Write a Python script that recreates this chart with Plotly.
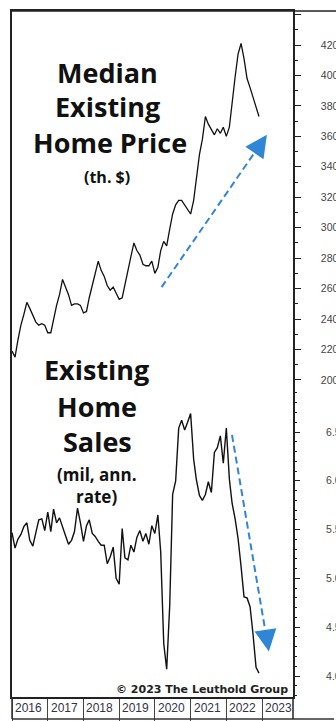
import plotly.graph_objects as go
import pandas as pd

# ---------------- data ----------------
months = pd.date_range("2016-01-01", "2022-12-01", freq="MS")

price = [219, 215, 226, 236, 243, 251, 247, 243, 238, 236, 237, 236,
         231, 231, 240, 249, 256, 266, 261, 256, 249, 250, 250, 249,
         244, 245, 254, 262, 268, 278, 272, 268, 262, 259, 261, 257,
         253, 254, 263, 271, 281, 290, 285, 282, 276, 275, 275, 278,
         270, 274, 285, 291, 288, 299, 309, 315, 318, 318, 315, 312,
         309, 318, 334, 348, 358, 373, 368, 364, 361, 365, 362, 366,
         360, 366, 383, 399, 414, 421, 411, 398, 392, 386, 379, 373]

sales = [5.47, 5.31, 5.40, 5.45, 5.53, 5.57, 5.39, 5.33, 5.47, 5.60, 5.61, 5.49,
         5.68, 5.48, 5.71, 5.57, 5.62, 5.52, 5.44, 5.35, 5.39, 5.48, 5.72, 5.57,
         5.38, 5.54, 5.60, 5.46, 5.43, 5.38, 5.34, 5.34, 5.15, 5.22, 5.32, 5.00,
         4.94, 5.51, 5.21, 5.19, 5.34, 5.27, 5.42, 5.49, 5.38, 5.46, 5.35, 5.54,
         5.46, 5.65, 5.27, 4.33, 4.07, 4.72, 5.86, 6.00, 6.54, 6.62, 6.52, 6.60,
         6.69, 6.22, 6.01, 5.85, 5.80, 5.86, 5.99, 5.88, 6.29, 6.34, 6.46, 6.18,
         6.54, 6.02, 5.77, 5.61, 5.41, 5.12, 4.81, 4.80, 4.71, 4.43, 4.09, 4.03]

price_ticks = [200, 220, 240, 260, 280, 300, 320, 340, 360, 380, 400, 420, 440]
price_ticktext = ["200", "220", "240", "260", "280", "300", "320", "340", "360", "380", "400", "420", ""]
price_minor = [210, 230, 250, 270, 290, 310, 330, 350, 370, 390, 410, 430]

sales_ticks = [4.0, 4.5, 5.0, 5.5, 6.0, 6.5]
sales_ticktext = ["4.0", "4.5", "5.0", "5.5", "6.0", "6.5"]
sales_minor = [3.8, 3.9, 4.1, 4.2, 4.3, 4.4, 4.6, 4.7, 4.8, 4.9, 5.1, 5.2, 5.3, 5.4,
               5.6, 5.7, 5.8, 5.9, 6.1, 6.2, 6.3, 6.4, 6.6, 6.7, 6.8, 6.9]

years = [2016, 2017, 2018, 2019, 2020, 2021, 2022, 2023]

price_arrow_dates = ["2020-03-10", "2023-02-20"]
price_arrow_vals = [261, 361]
sales_arrow_dates = ["2022-02-28", "2023-03-12"]
sales_arrow_vals = [6.47, 4.25]

# ---------------- layout geometry ----------------
W, H = 336, 721
L, R, T, B = 12, 293, 11, 697


def px(x):
    return (x - L) / (R - L)


def py(y):
    return (B - y) / (B - T)


BLUE = "#2f86d6"

fig = go.Figure()

fig.add_trace(go.Scatter(x=months, y=price, mode="lines",
                         line=dict(color="#111111", width=1.3), yaxis="y"))
fig.add_trace(go.Scatter(x=months, y=sales, mode="lines",
                         line=dict(color="#111111", width=1.4), yaxis="y2"))

# dashed arrows
fig.add_trace(go.Scatter(x=price_arrow_dates, y=price_arrow_vals, mode="lines",
                         line=dict(color=BLUE, width=2, dash="7px,4px"), yaxis="y"))
fig.add_trace(go.Scatter(x=sales_arrow_dates, y=sales_arrow_vals, mode="lines",
                         line=dict(color=BLUE, width=2, dash="7px,4px"), yaxis="y2"))

annotations = []
annotations.append(dict(x=price_arrow_dates[1], y=price_arrow_vals[1], xref="x", yref="y",
                        ax=-11, ay=16, showarrow=True, arrowhead=2, arrowsize=2.2,
                        arrowwidth=2, arrowcolor=BLUE, text=""))
annotations.append(dict(x=sales_arrow_dates[1], y=sales_arrow_vals[1], xref="x", yref="y2",
                        ax=-3, ay=-19, showarrow=True, arrowhead=2, arrowsize=2.2,
                        arrowwidth=2, arrowcolor=BLUE, text=""))

TF = "Open Sans"
title_lines = [
    ("Median", 107, 72, 27), ("Existing", 107, 106, 27), ("Home Price", 110, 142, 27),
    ("(th. $)", 107, 177, 16),
    ("Existing", 96, 369, 27), ("Home", 97, 406, 27), ("Sales", 97, 441, 27),
    ("(mil, ann.", 97, 475, 17), ("rate)", 96, 497, 17),
]
for txt, x, y, s in title_lines:
    annotations.append(dict(text="<b>%s</b>" % txt, x=px(x), y=py(y), xref="paper", yref="paper",
                            xanchor="center", yanchor="middle", showarrow=False,
                            font=dict(family=TF, size=s, color="#111111")))

annotations.append(dict(text="<b>© 2023 The Leuthold Group</b>", x=1, xshift=-3, y=py(689),
                        xref="paper", yref="paper", xanchor="right", yanchor="middle",
                        showarrow=False, font=dict(family="DejaVu Sans", size=11, color="#222222")))

for yr in years:
    annotations.append(dict(text=str(yr), x="%d-01-01" % yr, xref="x", xshift=1,
                            y=py(708), yref="paper", xanchor="left", yanchor="middle",
                            showarrow=False,
                            font=dict(family="Liberation Sans", size=12, color="#333344")))

shapes = [
    dict(type="line", xref="paper", yref="paper", x0=0, x1=px(W), y0=1, y1=1,
         line=dict(color="#222222", width=1.5)),
    dict(type="line", xref="paper", yref="paper", x0=0, x1=px(W - 2), y0=py(719), y1=py(719),
         line=dict(color="#333333", width=1.5)),
    dict(type="line", xref="paper", yref="paper", x0=0, x1=0, y0=0, y1=py(719),
         line=dict(color="#333333", width=1.5)),
    dict(type="line", xref="paper", yref="paper", x0=1, x1=1, y0=0, y1=py(719),
         line=dict(color="#222222", width=1.5)),
]

price_top = 420 + (45 - T) / 30.45 * 20
price_bot = 420 - (B - 45) / 30.45 * 20
sales_top = 6.5 + (432 - T) / 97.6
sales_bot = 6.5 - (B - 432) / 97.6

fig.update_layout(
    width=W, height=H, margin=dict(l=L, r=W - R, t=T, b=H - B, autoexpand=False),
    paper_bgcolor="white", plot_bgcolor="white", showlegend=False,
    annotations=annotations, shapes=shapes,
    xaxis=dict(range=["2016-01-01", "2023-11-14"], showgrid=False, zeroline=False,
               automargin=False,
               showline=True, mirror=True, linecolor="#222222", linewidth=1.5,
               ticks="outside", ticklen=22, tickwidth=1, tickcolor="#444444",
               tickvals=["%d-01-01" % y for y in years], showticklabels=False),
    yaxis=dict(side="right", range=[price_bot, price_top], showgrid=False, zeroline=False,
               automargin=False,
               showline=True, mirror=True, linecolor="#222222", linewidth=1.5,
               tickmode="array", tickvals=price_ticks, ticktext=price_ticktext,
               ticks="outside", ticklen=6, tickwidth=1.3, tickcolor="#222222",
               ticklabelstandoff=18,
               tickfont=dict(family="Liberation Sans", size=10.5, color="#444444"),
               minor=dict(tickmode="array", tickvals=price_minor, ticks="outside",
                          ticklen=3, tickwidth=1.2, tickcolor="#222222")),
    yaxis2=dict(side="right", overlaying="y", anchor="x", range=[sales_bot, sales_top],
                showgrid=False, zeroline=False, showline=False, automargin=False,
                tickmode="array", tickvals=sales_ticks, ticktext=sales_ticktext,
                ticks="outside", ticklen=6, tickwidth=1.3, tickcolor="#222222",
                ticklabelstandoff=24,
                tickfont=dict(family="Liberation Sans", size=10.5, color="#444444"),
                minor=dict(tickmode="array", tickvals=sales_minor, ticks="outside",
                           ticklen=3, tickwidth=1.2, tickcolor="#222222")),
)

fig.write_html("out.html")
